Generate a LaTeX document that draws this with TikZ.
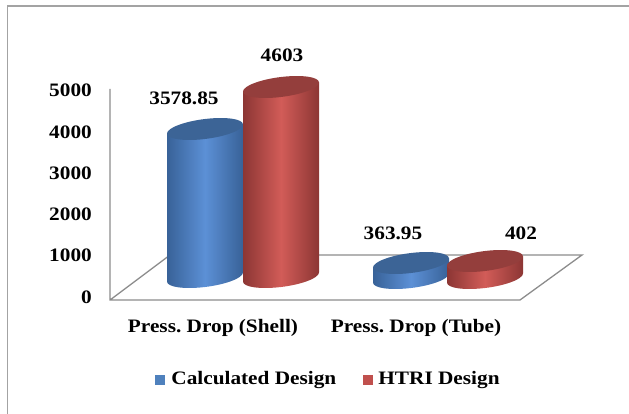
\documentclass[tikz,border=0pt]{standalone}
\usepackage{fontspec}
\setmainfont{Liberation Serif}[FakeStretch=1.12]
\frenchspacing
\usetikzlibrary{positioning}
\definecolor{calcblue}{RGB}{79,129,189}
\definecolor{calcdark}{RGB}{56,98,152}
\definecolor{calclight}{RGB}{92,144,214}
\definecolor{calctop}{RGB}{60,100,150}
\definecolor{htrired}{RGB}{192,80,77}
\definecolor{htridark}{RGB}{140,54,52}
\definecolor{htrilight}{RGB}{210,92,88}
\definecolor{htritop}{RGB}{148,62,60}
\definecolor{floorgray}{RGB}{140,140,140}

\begin{document}
\begin{tikzpicture}[x=1pt, y=-1pt,
    lbl/.style={font=\fontsize{19}{22}\selectfont\bfseries, inner sep=0pt},
    ticklbl/.style={lbl, anchor=east},
    keybox/.style={minimum size=10pt, inner sep=0pt},
    floorline/.style={draw=floorgray, line width=1.3pt},
    frameline/.style={draw=floorgray!80, line width=1.2pt}]
    \path[use as bounding box] (0,0) rectangle (629,414);
    % frame
    \draw[frameline] (7.5,414) -- (7.5,6) -- (629,6);
    % floor and value axis
    \coordinate (fl) at (110,300);
    \coordinate (fr) at (520,300);
    \coordinate (br) at (582,255);
    \coordinate (bl) at (170,255);
    \coordinate (top) at (110,89);
    \draw[floorline] (top) -- (fl) -- (fr) -- (br) -- (bl) -- (fl);
    % tick labels
    \foreach \v [count=\i from 0] in {0,1000,...,5000}
        \node[ticklbl] (tick\i) at (92,{297-41.3*\i}) {\v};
    % cylinders
    \foreach \cx/\by/\h/\dk/\lt/\tp in {205/277/148pt/calcdark/calclight/calctop,
        281/277/190pt/htridark/htrilight/htritop,
        411/278/15pt/calcdark/calclight/calctop,
        485/278/17pt/htridark/htrilight/htritop}{
      \begin{scope}[shift={(\cx,\by)}, yslant=0.12]
        \shade[left color=\dk, right color=\dk, middle color=\lt]
          (-38pt,0pt) arc[start angle=180, end angle=360, x radius=38pt, y radius=10pt]
          -- (38pt,\h) -- (-38pt,\h) -- cycle;
        \fill[\tp] (0pt,\h) ellipse[x radius=38pt, y radius=10pt];
      \end{scope}
    }
    % value labels
    \node[lbl] (v1) at (184,98) {3578.85};
    \node[lbl] (v2) at (282,55) {4603};
    \node[lbl] (v3) at (393,233) {363.95};
    \node[lbl] (v4) at (521,233) {402};
    % category labels
    \node[lbl] (shell) at (213,328) {Press. Drop (Shell)};
    \node[lbl] (tube) at (416,328) {Press. Drop (Tube)};
    % legend
    \node[keybox, fill=calcblue] (kcalc) at (160,380) {};
    \node[lbl, right=6pt of kcalc] (lcalc) {Calculated Design};
    \node[keybox, fill=htrired] (khtri) at (368,380) {};
    \node[lbl, right=5pt of khtri] (lhtri) {HTRI Design};
\end{tikzpicture}
\end{document}
